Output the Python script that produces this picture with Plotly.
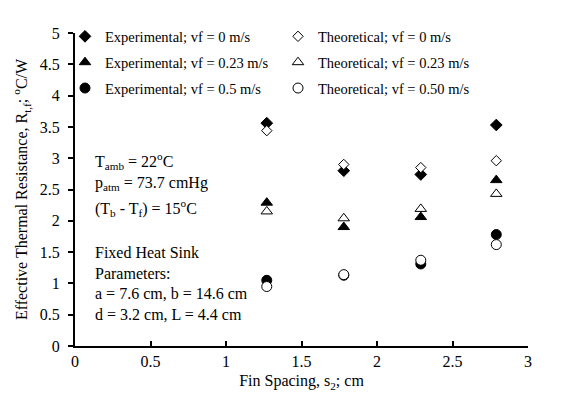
import plotly.graph_objects as go

fin_spacing = [1.27, 1.78, 2.29, 2.79]

exp_vf0 = [3.56, 2.80, 2.74, 3.53]
theo_vf0 = [3.44, 2.90, 2.85, 2.96]
exp_vf023 = [2.29, 1.90, 2.06, 2.65]
theo_vf023 = [2.15, 2.04, 2.19, 2.43]
exp_vf05 = [1.05, 1.13, 1.31, 1.78]
theo_vf05 = [0.95, 1.14, 1.37, 1.62]

x_ticks = [0, 0.5, 1, 1.5, 2, 2.5, 3]
y_ticks = [0, 0.5, 1, 1.5, 2, 2.5, 3, 3.5, 4, 4.5, 5]

FONT = "Liberation Serif, Times New Roman, serif"
FS = 16
LFS = 14.5

series = [
    ("Experimental; vf = 0 m/s", exp_vf0, "diamond", "black", 9, "legend"),
    ("Theoretical; vf = 0 m/s", theo_vf0, "diamond", "white", 8, "legend2"),
    ("Experimental; vf = 0.23 m/s", exp_vf023, "triangle-up", "black", 10, "legend"),
    ("Theoretical; vf = 0.23 m/s", theo_vf023, "triangle-up", "white", 10, "legend2"),
    ("Experimental; vf = 0.5 m/s", exp_vf05, "circle", "black", 10, "legend"),
    ("Theoretical; vf = 0.50 m/s", theo_vf05, "circle", "white", 10, "legend2"),
]

fig = go.Figure()
for i, (name, vals, sym, fill, size, lg) in enumerate(series):
    fig.add_trace(go.Scatter(
        x=fin_spacing, y=vals, mode="markers", name=name,
        legend=lg, legendgroup=f"g{i}",
        marker=dict(symbol=sym, color=fill, size=size,
                    line=dict(color="black", width=1)),
    ))

axis_common = dict(
    showgrid=False, zeroline=False, showline=True, linecolor="black",
    linewidth=2, tickcolor="black", tickwidth=1.5, automargin=False,
    tickfont=dict(family=FONT, size=FS, color="black"),
)

legend_common = dict(
    orientation="v", xanchor="left", yanchor="top",
    font=dict(family=FONT, size=LFS, color="black"),
    bgcolor="rgba(0,0,0,0)", itemwidth=30, tracegroupgap=4,
)

fig.update_layout(
    width=561, height=393,
    margin=dict(l=67, r=41, t=15, b=55),
    paper_bgcolor="white", plot_bgcolor="white",
    font=dict(family=FONT, size=FS, color="black"),
    xaxis=dict(range=[0, 3], tickvals=x_ticks, ticks="inside", ticklen=5,
               title=dict(text="Fin Spacing, s<sub>2</sub>; cm",
                          font=dict(family=FONT, size=FS), standoff=6),
               **axis_common),
    yaxis=dict(range=[0, 5], tickvals=y_ticks, ticks="outside", ticklen=5,
               ticklabelstandoff=5,
               title=dict(text="Effective Thermal Resistance, R<sub>t,f</sub>; <sup>o</sup>C/W",
                          font=dict(family=FONT, size=FS), standoff=8),
               **axis_common),
    legend=dict(x=(57 - 67) / 453, y=(338 - 2) / 323, **legend_common),
    legend2=dict(x=(270 - 67) / 453, y=(338 - 2) / 323, **legend_common),
    showlegend=True,
)

notes = [
    ("T<sub>amb</sub> = 22<sup>o</sup>C", 147),
    ("p<sub>atm</sub> = 73.7 cmHg", 170),
    ("(T<sub>b</sub> - T<sub>f</sub>) = 15<sup>o</sup>C", 196),
    ("Fixed Heat Sink", 242),
    ("Parameters:", 263),
    ("a = 7.6 cm, b = 14.6 cm", 284),
    ("d = 3.2 cm, L = 4.4 cm", 305),
]
for txt, ypix in notes:
    fig.add_annotation(
        text=txt, xref="paper", yref="paper",
        x=(85 - 67) / 453, y=(338 - ypix) / 323,
        xanchor="left", yanchor="middle", align="left", showarrow=False,
        font=dict(family=FONT, size=FS, color="black"),
    )

fig.write_html("out.html")
